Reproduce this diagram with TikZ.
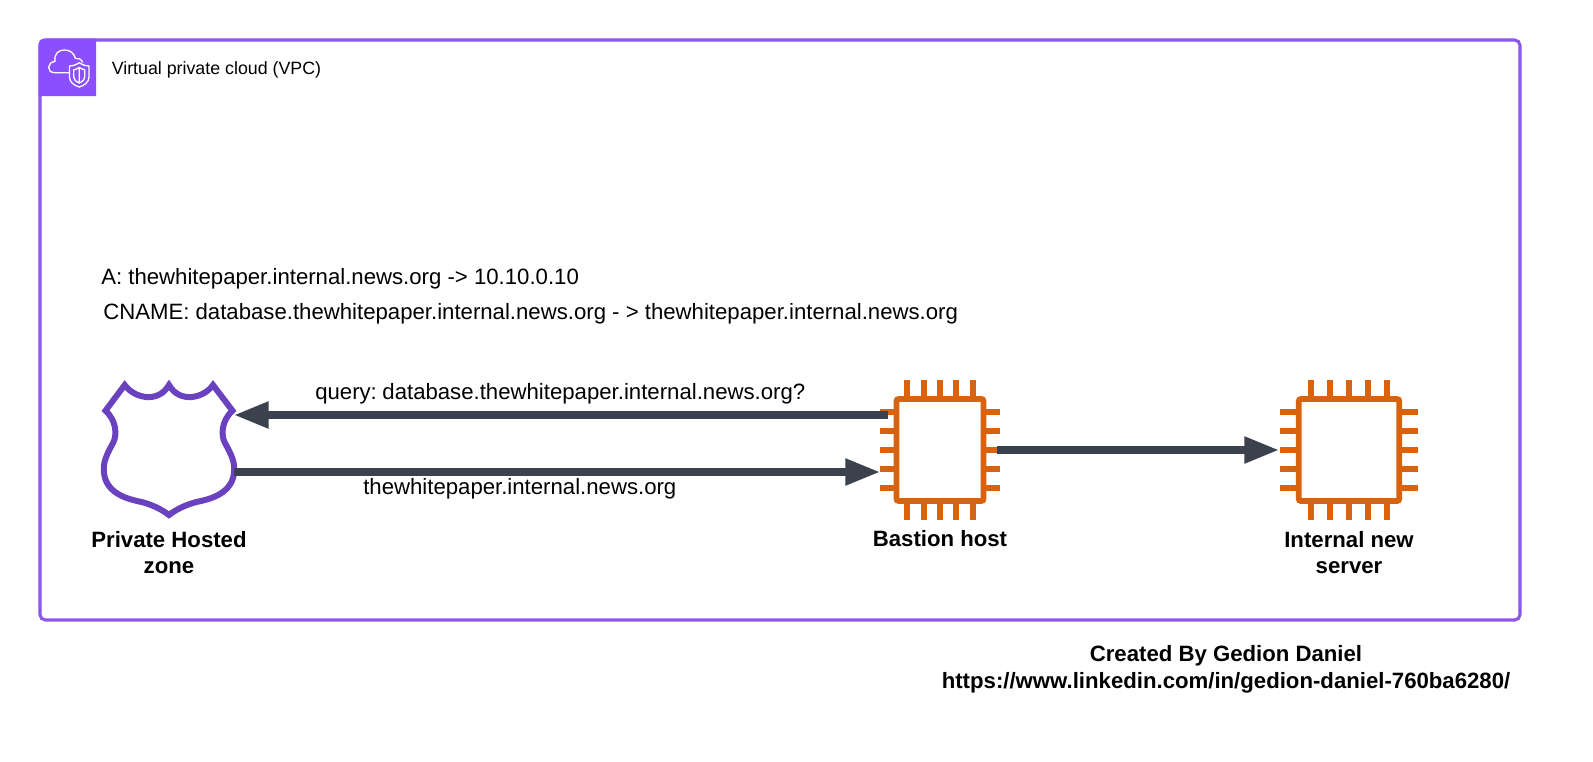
\documentclass[tikz,border=0pt]{standalone}
\usepackage{fontspec}
\setmainfont{Liberation Sans}
\usetikzlibrary{arrows.meta}
\definecolor{vpc}{HTML}{8C57E8}
\definecolor{vpcicon}{HTML}{8C4FFF}
\definecolor{zone}{HTML}{6A42C0}
\definecolor{chipc}{HTML}{D9620F}
\definecolor{conn}{HTML}{3B424E}
\tikzset{
  x=0.75pt,y=-0.75pt,
  lbl/.style={anchor=base west,inner sep=0pt,font=\fontsize{16.63}{20}\selectfont,text=black},
  captext/.style={align=center,inner sep=0pt,font=\fontsize{16.63}{20}\selectfont\bfseries,text=black},
  chipbody/.style={draw=chipc,line width=4.3pt,fill=white,rounded corners=1.5pt,minimum height=76.4pt,inner sep=0pt},
  pin/.style={draw=chipc,line width=4.6pt},
  flow/.style={draw=conn,line width=5.5pt,-{Triangle[length=26pt,width=19pt]},shorten >=0pt},
  iconline/.style={draw=white,line width=1pt,line join=round,line cap=round}
}
% centre x, centre y, spacing of top pins, horizontal reach of side pins, inner end of side pins
\newcommand{\chippins}[5]{%
  \foreach \d in {-2,-1,0,1,2}{
    \draw[pin] (#1+\d*#3,#2-70) -- (#1+\d*#3,#2-50);
    \draw[pin] (#1+\d*#3,#2+50) -- (#1+\d*#3,#2+70);
    \draw[pin] (#1-#4,#2+\d*18.9) -- (#1-#5,#2+\d*18.9);
    \draw[pin] (#1+#5,#2+\d*18.9) -- (#1+#4,#2+\d*18.9);
  }}
\begin{document}
\begin{tikzpicture}
\path[use as bounding box,fill=white] (0,0) rectangle (1593,761);
% VPC frame
\node[draw=vpc,line width=2.3pt,rounded corners=4pt,outer sep=0pt,minimum width=1110pt,minimum height=435pt,inner sep=0pt,anchor=north west] (frame) at (40,40) {};
\fill[vpcicon,rounded corners=4pt] (38.5,96) -- (38.5,38.5) -- (70,38.5) [sharp corners] -- (96,38.5) -- (96,96) -- cycle;
% cloud
\draw[iconline] (69.3,72.7) -- (55,72.7) .. controls (46,72.7) and (47,62) .. (55,61.5) .. controls (54,53) and (59,50) .. (64.5,50) .. controls (70,50) and (74,53) .. (75.5,58.5) .. controls (78,57.5) and (81,59) .. (82.5,62);
% small shield
\draw[iconline,fill=vpcicon] (79.3,62.7) .. controls (75,65.5) and (72,66) .. (69.5,66) -- (69.5,77) .. controls (69.5,82) and (74,85.5) .. (79.3,87) .. controls (84.5,85.5) and (89,82) .. (89,77) -- (89,66) .. controls (86.5,66) and (83.5,65.5) .. (79.3,62.7) -- cycle;
\draw[iconline] (79.3,67.5) .. controls (77,69) and (75.5,69.5) .. (73.7,69.8) -- (73.7,77) .. controls (73.7,79.5) and (76,81.5) .. (79.3,83) .. controls (82.5,81.5) and (84.8,79.5) .. (84.8,77) -- (84.8,69.8) .. controls (83,69.5) and (81.5,69) .. (79.3,67.5) -- cycle (79.3,67.5) -- (79.3,83);
\node[lbl,font=\fontsize{13.35}{16}\selectfont] (vpctext) at (111.5,74) {Virtual private cloud (VPC)};
% texts
\node[lbl] (recA) at (101,284.5) {A: thewhitepaper.internal.news.org -> 10.10.0.10};
\node[lbl] (recC) at (103,319) {CNAME: database.thewhitepaper.internal.news.org - > thewhitepaper.internal.news.org};
\node[lbl] (q) at (315,399) {query:\kern-2pt{} database.thewhitepaper.internal.news.org?};
\node[lbl] (r) at (363,494) {thewhitepaper.internal.news.org};
% shield
\node[inner sep=0pt,minimum width=132pt,minimum height=137pt] (zone) at (169,450) {};
\draw[zone,line width=4.5pt,line join=miter,fill=white]
  (124.7,385) .. controls (134,398) and (158,404) .. (169,385)
  .. controls (180,404) and (204,398) .. (213,385)
  -- (232.5,410.7)
  .. controls (221,421) and (221,436) .. (225,443)
  .. controls (232,456) and (235,462) .. (234,473)
  .. controls (232,490) and (218,497) .. (201,501)
  .. controls (190,503) and (178,508) .. (169,515)
  .. controls (160,508) and (148,503) .. (137,501)
  .. controls (120,497) and (106,490) .. (104,473)
  .. controls (103,462) and (106,456) .. (113,443)
  .. controls (117,436) and (117,421) .. (105.5,410.7)
  -- cycle;
\coordinate (zoneA) at (234,415);
\coordinate (zoneB) at (234,472);
% chips
\chippins{940}{450}{16.35}{60}{42}
\chippins{1349}{450}{18.8}{69}{50}
\node[chipbody,minimum width=65.2pt] (bastion) at (940,450) {};
\node[chipbody,minimum width=75.3pt] (internal) at (1349,450) {};
\coordinate (bastionA) at (888,415);
\coordinate (bastionB) at (880,472);
\coordinate (bastionC) at (997,450);
\coordinate (internalC) at (1279,450);
% connectors
\draw[flow] (bastionA) -- (zoneA);
\draw[flow] (zoneB) -- (bastionB);
\draw[flow] (bastionC) -- (internalC);
% captions
\node[captext] (capzone) at (169,552.5) {Private Hosted\\zone};
\node[captext,anchor=base] (capb) at (940,546) {Bastion host};
\node[captext] (capi) at (1349,552.5) {Internal new\\server};
\node[captext] (credit) at (1226,669) {Created By Gedion Daniel\\https://www.linkedin.com/in/gedion-daniel-760ba6280/};
\end{tikzpicture}
\end{document}
